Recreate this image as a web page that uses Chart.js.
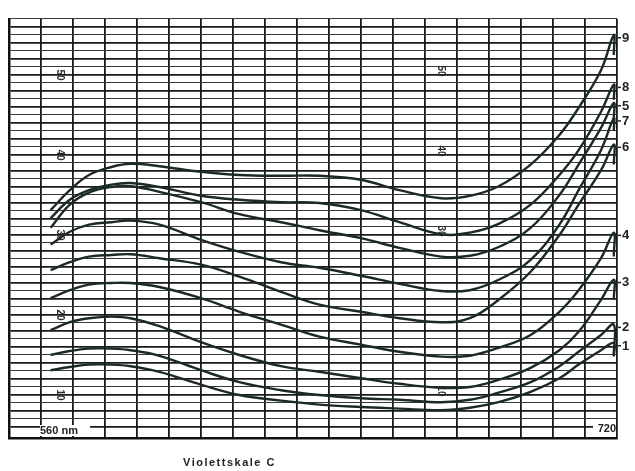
<!DOCTYPE html>
<html><head><meta charset="utf-8">
<script src="https://cdn.jsdelivr.net/npm/chart.js@4/dist/chart.umd.min.js"></script>
<style>html,body{margin:0;padding:0;background:#fff}canvas{display:block}</style>
</head><body>
<canvas id="c" width="635" height="471"></canvas>
<script>
// Wavelengths (nm) at which each curve was read
const wavelengths = [543,549,555,562,568,577,590,602,615,627,640,652,665,674,683,693,702,708,715,719];

// Curve values (chart units as printed on the rotated scale 10..50)
const curve9 = [33.1,35.6,37.5,38.5,38.9,38.6,37.9,37.5,37.4,37.4,36.9,35.6,34.6,34.9,36.1,38.8,42.5,45.9,50.6,55.0];
const curve8 = [32.1,34.4,35.6,36.3,36.5,36.0,34.9,34.4,34.1,34.0,33.1,31.6,30.1,30.3,31.4,33.8,37.5,40.6,45.4,48.8];
const curve5 = [30.9,33.8,35.3,36.0,36.1,35.4,34.1,32.6,31.6,30.6,29.6,28.4,27.3,27.4,28.5,30.9,35.0,38.8,43.4,46.5];
const curve7 = [28.8,30.4,31.3,31.6,31.8,31.3,29.4,27.9,26.6,25.9,24.9,23.9,23.0,23.1,24.4,26.9,31.3,35.6,40.6,44.6];
const curve6 = [25.6,26.6,27.3,27.5,27.6,27.1,26.3,24.8,22.9,21.3,20.4,19.6,19.1,19.6,21.9,25.4,30.0,33.8,38.1,41.3];
const curve4 = [22.1,23.1,23.8,24.0,24.0,23.5,22.1,20.4,18.8,17.3,16.3,15.4,14.8,14.9,15.9,17.5,20.4,23.1,27.1,30.3];
const curve3 = [18.1,19.1,19.6,19.8,19.6,18.6,16.6,15.0,13.6,12.9,12.1,11.4,10.9,11.0,11.9,13.4,15.6,17.9,21.9,24.4];
const curve2 = [15.0,15.5,15.8,15.8,15.6,14.9,13.1,11.6,10.6,10.0,9.6,9.4,9.1,9.4,10.3,11.6,13.6,15.4,17.5,18.8];
const curve1 = [13.1,13.5,13.8,13.8,13.6,12.9,11.3,10.0,9.3,8.8,8.5,8.3,8.1,8.4,9.1,10.4,12.1,13.8,15.6,16.5];

// Pen drop at the end of each curve (value reached after the vertical stroke)
const dropValues = {"9":52.5,"8":46.9,"5":44.5,"7":43.0,"6":38.8,"4":27.3,"3":21.9,"2":15.0,"1":14.8};

const curveNames = ["9","8","5","7","6","4","3","2","1"];
const curveData = [curve9,curve8,curve5,curve7,curve6,curve4,curve3,curve2,curve1];

// Printed scale labels (rotated) and positions along the wavelength axis
const scaleLabels = [50,40,30,20,10];
const scaleLabels2 = [50,40,30,10];
const scaleLabelWl = [546,665];
const xLeftLabel = "560 nm";
const xRightLabel = "720";
const chartTitle = "Violettskale C";

const ink = "#1c2a24";

const datasets = curveNames.map((name,i)=>{
  const pts = wavelengths.map((w,j)=>({x:w,y:curveData[i][j]}));
  pts.push({x:wavelengths[wavelengths.length-1], y:dropValues[name]});
  return {
    label: name,
    data: pts,
    borderColor: ink,
    borderWidth: 2.4,
    pointRadius: 0,
    tension: 0.4,
    fill: false
  };
});

const textPlugin = {
  id: 'texts',
  afterDatasetsDraw(chart){
    const ctx = chart.ctx;
    const xs = chart.scales.x, ys = chart.scales.y;
    ctx.save();
    ctx.fillStyle = "#222";
    ctx.font = "bold 10px 'Liberation Sans', Arial, sans-serif";
    const drawRot = (txt, wl, v) => {
      const px = xs.getPixelForValue(wl), py = ys.getPixelForValue(v);
      ctx.save();
      ctx.translate(px, py);
      ctx.rotate(Math.PI/2);
      ctx.textAlign = 'center'; ctx.textBaseline = 'middle';
      ctx.fillStyle = '#2a2a2a';
      ctx.fillText(String(txt),0,0);
      ctx.restore();
    };
    scaleLabels.forEach(v=>drawRot(v, scaleLabelWl[0], v));
    scaleLabels2.forEach(v=>drawRot(v, scaleLabelWl[1], v+0.5));
    // curve number labels at right end
    ctx.font = "bold 13px 'Liberation Sans', Arial, sans-serif";
    ctx.textAlign = 'left'; ctx.textBaseline = 'middle';
    curveNames.forEach((name,i)=>{
      const v = curveData[i][curveData[i].length-1];
      const py = ys.getPixelForValue(v) + 3;
      const px = xs.getPixelForValue(720);
      ctx.fillStyle = '#222';
      ctx.fillRect(px+1, py-1, 3, 1.5);
      ctx.fillText(name, px+5, py);
    });
    // axis end labels
    ctx.font = "bold 11px 'Liberation Sans', Arial, sans-serif";
    ctx.textBaseline = 'alphabetic';
    ctx.textAlign = 'left';
    const bottom = chart.chartArea.bottom;
    ctx.fillStyle = '#fff';
    ctx.fillRect(xs.getPixelForValue(540)-1, bottom-13, 50, 11);
    ctx.fillStyle = '#222';
    ctx.fillText(xLeftLabel, xs.getPixelForValue(540)-1, bottom-4);
    ctx.textAlign = 'right';
    ctx.fillStyle = '#fff';
    ctx.fillRect(xs.getPixelForValue(720)-24, bottom-15, 23, 11);
    ctx.fillStyle = '#222';
    ctx.fillText(xRightLabel, xs.getPixelForValue(720)-1, bottom-6);
    // title
    ctx.font = "bold 11px 'Liberation Sans', Arial, sans-serif";
    ctx.textAlign = 'left';
    if (ctx.letterSpacing !== undefined) ctx.letterSpacing = '1.5px';
    ctx.fillText(chartTitle, 183, 466);
    ctx.restore();
  }
};

new Chart(document.getElementById('c'), {
  type: 'line',
  data: { datasets },
  options: {
    responsive: false,
    animation: false,
    layout: { padding: { left: 9, top: 19, right: 18, bottom: 33 } },
    plugins: { legend: { display: false }, tooltip: { enabled: false }, title: { display: false } },
    scales: {
      x: {
        type: 'linear', min: 530, max: 720,
        ticks: { display: false, stepSize: 10 },
        grid: { color: '#1a1a1a', lineWidth: 1.8, drawTicks: false },
        border: { display: true, color: '#111', width: 2.5 }
      },
      y: {
        type: 'linear', min: 4.625, max: 57,
        ticks: { display: false, stepSize: 1 },
        grid: {
          color: (c)=> (Math.round(c.tick.value) % 2 === 0 ? '#1a1a1a' : '#3a3a3a'),
          lineWidth: (c)=> (Math.round(c.tick.value) % 2 === 0 ? 1.8 : 1.1),
          drawTicks: false
        },
        border: { display: true, color: '#111', width: 2.5 }
      }
    }
  },
  plugins: [textPlugin]
});
</script>
</body></html>
